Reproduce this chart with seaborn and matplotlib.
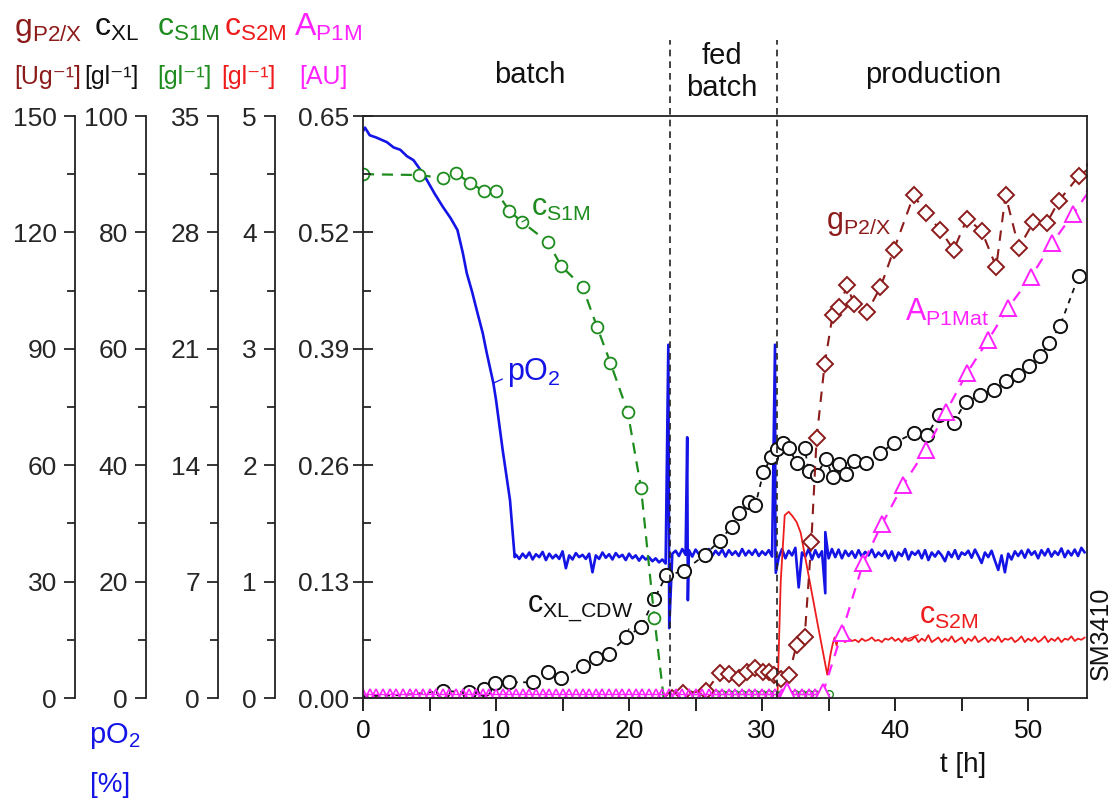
import numpy as np
import matplotlib
matplotlib.use("Agg")
import matplotlib.pyplot as plt
import seaborn as sns

# ---------------- data ----------------
# dissolved oxygen pO2 [%] -- decline phase
t_po2_decline = [0.0, 0.15, 0.5, 1.0, 1.8, 2.3, 2.8, 3.3, 3.8, 4.3, 4.8, 5.4, 6.0, 6.6, 7.1,
                 7.5, 7.8, 8.2, 8.6, 9.0, 9.3, 9.8, 10.0, 10.5, 11.05, 11.4]
po2_decline = [97.4, 98.0, 96.7, 96.3, 95.5, 94.6, 94.2, 93.1, 92.4, 90.8, 89.0, 86.6, 84.4, 82.4, 80.4,
               76.5, 73.0, 69.8, 66.2, 62.7, 59.3, 54.1, 51.2, 42.6, 34.0, 24.2]
# controlled phase, sampled every 0.25 h from 11.5 h
po2_band_start = 11.5
po2_band_step = 0.25
po2_band = [
    24.6, 23.9, 24.8, 24.1, 25.0, 23.8, 24.7, 24.2,
    25.1, 23.7, 24.8, 24.0, 24.6, 23.9, 25.2, 22.3,
    24.5, 23.8, 24.9, 24.2, 24.6, 23.9, 24.8, 21.6,
    24.5, 23.9, 25.0, 24.1, 24.7, 23.8, 24.9, 24.2,
    24.6, 23.7, 24.8, 24.0, 24.5, 23.6, 24.4, 23.8,
    24.2, 23.5, 24.0, 23.3, 23.8, 23.1, 24.2, 24.8,
    25.3, 24.4, 25.6, 24.6, 25.4, 24.3, 25.5, 24.7,
    25.2, 24.5, 25.6, 24.4, 25.3, 24.6, 25.5, 24.3,
    25.4, 24.6, 25.2, 24.4, 25.6, 24.5, 25.3, 24.6,
    25.5, 24.4, 25.2, 24.6, 25.4, 24.3, 25.0, 24.2,
    25.6, 24.0, 25.3, 24.5, 25.8, 19.0, 25.0, 24.3,
    25.6, 23.8, 25.4, 24.2, 25.2, 18.0, 24.0, 25.6,
    24.2, 25.5, 24.0, 25.3, 24.4, 25.2, 24.1, 25.4,
    24.3, 25.1, 24.5, 25.5, 24.2, 25.0, 24.4, 25.3,
    24.0, 25.2, 23.6, 25.0, 24.4, 25.6, 23.8, 25.1,
    24.6, 25.3, 24.0, 25.4, 23.7, 25.0, 24.3, 25.2,
    24.5, 23.5, 25.1, 24.2, 25.4, 23.9, 25.0, 24.6,
    25.3, 24.1, 25.5, 24.4, 23.2, 25.0, 24.2, 25.3,
    23.6, 22.0, 24.5, 21.6, 24.8, 23.8, 25.2, 24.4,
    25.3, 24.1, 25.5, 24.6, 25.2, 24.0, 25.4, 24.5,
    25.6, 24.3, 25.2, 24.6, 25.7, 24.2, 25.3, 24.5,
    25.5, 24.4, 25.8, 25.0,
]
# spikes of the pO2 signal at feed switches
t_po2_spikes = [22.95, 23.02, 24.37, 24.42, 30.97, 31.03, 34.75]
po2_spikes = [60.7, 12.0, 44.8, 16.8, 60.7, 21.5, 28.5]

# biomass c_XL [g/l]
t_cxl = [0.0, 3.0, 6.0, 8.0, 9.1, 9.9, 11.0, 12.8, 13.9, 14.9, 16.5, 17.5, 18.5, 19.8, 20.9, 21.9,
         22.8, 24.1, 25.7, 26.8, 27.7, 28.3, 29.0, 29.5, 30.1, 30.7, 31.1, 31.6, 32.0, 32.6, 33.2,
         33.5, 34.1, 34.8, 35.3, 35.8, 36.3, 36.9, 37.8, 38.9, 39.9, 41.4, 42.4, 43.3, 44.4, 45.3,
         46.4, 47.4, 48.3, 49.2, 50.1, 50.9, 51.6, 52.4, 53.8]
cxl = [0.3, 0.5, 1.2, 1.0, 1.5, 2.6, 2.7, 2.7, 4.5, 3.4, 5.5, 6.9, 7.6, 10.5, 12.2, 17.0,
       21.1, 21.8, 24.6, 27.0, 29.4, 31.8, 33.7, 33.2, 38.8, 41.4, 42.8, 43.8, 43.0, 40.4, 43.0,
       39.0, 38.3, 41.1, 38.0, 40.2, 38.5, 40.7, 40.4, 42.1, 43.8, 45.5, 45.2, 48.6, 47.3, 50.9,
       52.0, 53.0, 54.5, 55.5, 57.0, 58.8, 61.0, 64.0, 72.5]

# substrate 1 c_S1M [g/l]
t_cs1 = [0.0, 4.2, 6.0, 7.0, 8.05, 9.1, 10.0, 11.0, 11.95, 13.9, 14.9, 16.5, 17.6, 18.6, 19.9,
         20.9, 21.9, 22.6]
cs1 = [31.5, 31.45, 31.27, 31.57, 30.97, 30.49, 30.49, 29.29, 28.63, 27.42, 25.98, 24.72, 22.31,
       20.15, 17.2, 12.63, 4.81, 0.0]
t_cs1_zero = [23.5, 24.0, 24.5, 25.0, 25.5, 26.0, 26.5, 27.0, 27.5, 28.0, 28.5, 29.0, 29.5, 30.0,
              30.5, 31.0, 31.5, 32.0, 32.5, 33.0, 33.5, 34.0, 34.5, 35.0]
cs1_zero = [0.25] * len(t_cs1_zero)

# substrate 2 c_S2M [g/l]
t_cs2 = [0.0, 31.15, 31.4, 31.7, 32.0, 32.3, 32.6, 32.9, 33.5, 34.2, 34.9, 35.15, 35.3, 35.45,
         35.6, 35.75, 35.9]
cs2 = [0.0, 0.0, 1.0, 1.57, 1.60, 1.56, 1.51, 1.42, 1.05, 0.62, 0.20, 0.38, 0.46, 0.52, 0.45,
       0.55, 0.53]
cs2_plateau_start = 36.0
cs2_plateau_step = 0.25
cs2_plateau = [
    0.50, 0.48, 0.51, 0.49, 0.50, 0.48, 0.51, 0.49,
    0.50, 0.52, 0.49, 0.50, 0.48, 0.51, 0.50, 0.52,
    0.49, 0.51, 0.48, 0.52, 0.49, 0.50, 0.53, 0.48,
    0.51, 0.49, 0.54, 0.48, 0.50, 0.52, 0.48, 0.51,
    0.49, 0.53, 0.48, 0.50, 0.52, 0.47, 0.51, 0.49,
    0.53, 0.48, 0.50, 0.52, 0.48, 0.51, 0.49, 0.53,
    0.48, 0.51, 0.50, 0.52, 0.48, 0.50, 0.53, 0.48,
    0.51, 0.49, 0.52, 0.48, 0.50, 0.53, 0.48, 0.51,
    0.49, 0.52, 0.48, 0.51, 0.50, 0.53, 0.49, 0.51,
    0.50, 0.52,
]

# specific product 2 g_P2/X [U/g]
t_gp2 = [23.2, 24.06, 25.8, 26.8, 27.5, 28.3, 28.9, 29.5, 30.1, 30.5, 30.9, 31.4, 32.0, 32.6,
         33.2, 33.7, 34.1, 34.7, 35.3, 35.8, 36.4, 36.9, 37.9, 38.9, 39.9, 41.4, 42.3, 43.4,
         44.4, 45.4, 46.5, 47.6, 48.3, 49.3, 50.4, 51.4, 52.3, 53.8, 55.0]
gp2 = [0.0, 1.3, 1.8, 6.4, 6.2, 5.2, 6.7, 7.7, 6.7, 6.7, 5.9, 4.9, 5.9, 13.7,
       15.7, 40.2, 67.0, 86.0, 98.7, 100.8, 106.4, 101.5, 99.5, 105.9, 115.5, 129.6, 125.0, 120.6,
       115.5, 123.5, 120.4, 111.1, 129.6, 116.0, 122.7, 122.4, 128.1, 134.5, 137.5]

# product 1 activity A_P1M [AU]
t_ap1_low = [0.0, 0.5, 1.0, 1.5, 2.0, 2.5, 3.0, 3.5, 4.0, 4.5, 5.0, 5.5, 6.0, 6.5, 7.0, 7.5,
             8.0, 8.5, 9.0, 9.5, 10.0, 10.5, 11.0, 11.5, 12.0, 12.5, 13.0, 13.5, 14.0, 14.5,
             15.0, 15.5, 16.0, 16.5, 17.0, 17.5, 18.0, 18.5, 19.0, 19.5, 20.0, 20.5, 21.0, 21.5,
             22.0, 22.5, 23.0, 23.5, 24.0, 24.5, 25.0, 25.5, 26.0, 26.5, 27.0, 27.5, 28.0, 28.5,
             29.0, 29.5, 30.0, 30.5, 31.0, 31.5, 32.0, 32.5, 33.0, 33.5, 34.0, 34.5]
ap1_low = [0.0045] * len(t_ap1_low)
t_ap1_mat = [31.9, 34.6, 36.0, 37.6, 39.0, 40.6, 42.3, 43.8, 45.4, 47.0, 48.5, 50.2, 51.8, 53.4, 55.0]
ap1_mat = [0.008, 0.007, 0.073, 0.151, 0.194, 0.238, 0.277, 0.319, 0.363, 0.400, 0.436, 0.470,
           0.508, 0.541, 0.575]

phase_bounds = [23.05, 31.1]

# ---------------- styling ----------------
sns.set_theme(style="ticks")
plt.rcParams["font.family"] = ["Liberation Sans", "DejaVu Sans"]
plt.rcParams["mathtext.fontset"] = "custom"
plt.rcParams["mathtext.rm"] = "Liberation Sans"
plt.rcParams["mathtext.it"] = "Liberation Sans:italic"
plt.rcParams["mathtext.bf"] = "Liberation Sans:bold"
plt.rcParams["axes.unicode_minus"] = False

C_G = "#8c1b1b"
C_K = "#111111"
C_S1 = "#1e8c1e"
C_S2 = "#ee1c1c"
C_A = "#ff22ff"
C_B = "#1414e6"

W, H = 1119, 800
L, R, T, B = 363, 1086.7, 116, 698
fig = plt.figure(figsize=(W / 100, H / 100), dpi=100)
fig.patch.set_facecolor("white")
pos = [L / W, 1 - B / H, (R - L) / W, (B - T) / H]

ax = fig.add_axes(pos)
ax_x = fig.add_axes(pos, sharex=ax)
ax_s2 = fig.add_axes(pos, sharex=ax)
ax_s1 = fig.add_axes(pos, sharex=ax)
ax_g = fig.add_axes(pos, sharex=ax)
for z, a in enumerate([ax_x, ax_s2, ax_s1, ax_g]):
    a.set_zorder(z + 1)
ax.set_zorder(6)
for a in [ax, ax_x, ax_s2, ax_s1, ax_g]:
    a.patch.set_visible(False)


def sline(a, x, y, **kw):
    sns.lineplot(x=np.asarray(x, float), y=np.asarray(y, float), ax=a, sort=False,
                 estimator=None, legend=False, **kw)


# pO2 assembled
t_band = po2_band_start + po2_band_step * np.arange(len(po2_band))
t_po2 = np.concatenate([t_po2_decline, t_band, t_po2_spikes])
v_po2 = np.concatenate([po2_decline, po2_band, po2_spikes])
order = np.argsort(t_po2, kind="stable")
sline(ax_x, t_po2[order], v_po2[order], color=C_B, linewidth=1.9, zorder=2)

# c_XL
sline(ax_x, t_cxl, cxl, color=C_K, linewidth=1.3, linestyle=(0, (3, 3)), marker="o",
      markersize=9.5, markerfacecolor="white", markeredgecolor=C_K, markeredgewidth=1.4, zorder=3,
      markevery=list(range(2, len(t_cxl))))

# c_S2M
t_plat = cs2_plateau_start + cs2_plateau_step * np.arange(len(cs2_plateau))
sline(ax_s2, np.concatenate([t_cs2, t_plat]), np.concatenate([cs2, cs2_plateau]),
      color=C_S2, linewidth=1.3)

# c_S1M
sline(ax_s1, t_cs1, cs1, color=C_S1, linewidth=1.6, linestyle=(0, (5, 3.5)), marker="o",
      markersize=8.5, markerfacecolor="white", markeredgecolor=C_S1, markeredgewidth=1.3,
      markevery=list(range(len(t_cs1) - 1)))
sline(ax_s1, t_cs1_zero, cs1_zero, color=C_S1, linewidth=1.0, marker="o", markersize=5.5,
      markerfacecolor="none", markeredgecolor=C_S1, markeredgewidth=1.0)

# g_P2/X
sline(ax_g, t_gp2, gp2, color=C_G, linewidth=1.5, linestyle=(0, (5, 4)), marker="D",
      markersize=8.5, markerfacecolor="white", markeredgecolor=C_G, markeredgewidth=1.4)

# A_P1M
sline(ax, t_ap1_low, ap1_low, color=C_A, linewidth=1.0, marker="^", markersize=7.5,
      markerfacecolor="none", markeredgecolor=C_A, markeredgewidth=1.2)
sline(ax, [t_ap1_low[-1]] + t_ap1_mat[1:], [ap1_low[-1]] + ap1_mat[1:], color=C_A, linewidth=1.6,
      linestyle=(0, (5, 4)), marker=None)
sline(ax, t_ap1_mat, ap1_mat, color=C_A, linewidth=0, marker="^", markersize=11,
      markerfacecolor="white", markeredgecolor=C_A, markeredgewidth=1.4)

# phase boundaries
for tb in phase_bounds:
    ax.axvline(tb, ymin=0, ymax=(B - 40) / (B - T), clip_on=False, color="#222222",
               linestyle=(0, (4, 3)), linewidth=1.2, zorder=10)

# ---------------- axes ----------------
ax.set_xlim(0, 54.4)
ax.set_ylim(0, 0.65)
ax_x.set_ylim(0, 100)
ax_s1.set_ylim(0, 35)
ax_s2.set_ylim(0, 5)
ax_g.set_ylim(0, 150)

ax.set_xticks([0, 10, 20, 30, 40, 50])
ax.set_xticks([5, 15, 25, 35, 45], minor=True)
ax.set_yticks([0, 0.13, 0.26, 0.39, 0.52, 0.65])
ax.set_yticklabels(["0.00", "0.13", "0.26", "0.39", "0.52", "0.65"])
ax.set_yticks([0.065, 0.195, 0.325, 0.455, 0.585], minor=True)
for s in ax.spines.values():
    s.set_visible(True)
    s.set_linewidth(1.3)
    s.set_color("#222222")
ax.tick_params(axis="x", which="both", direction="out", length=9, width=1.3, pad=6,
               labelsize=19, bottom=True, colors="#111111")
ax.tick_params(axis="y", which="major", direction="inout", length=14, width=1.3, pad=3,
               labelsize=19, left=True, right=False)
ax.tick_params(axis="y", which="minor", direction="in", length=6, width=1.3, left=True, right=False)
ax.set_xlabel("")
ax.set_ylabel("")


def style_left(a, frac, ticks, minors):
    for s in ["top", "right", "bottom"]:
        a.spines[s].set_visible(False)
    a.spines["left"].set_visible(True)
    a.spines["left"].set_position(("axes", frac))
    a.spines["left"].set_linewidth(1.3)
    a.spines["left"].set_color("#222222")
    a.set_yticks(ticks)
    a.set_yticks(minors, minor=True)
    a.tick_params(axis="y", which="major", direction="out", length=8, width=1.3, pad=5,
                  labelsize=19, left=True, right=False)
    a.tick_params(axis="y", which="minor", direction="out", length=6, width=1.3, left=True,
                  right=False)
    a.tick_params(axis="x", which="both", bottom=False, labelbottom=False)
    a.set_xlabel("")
    a.set_ylabel("")


style_left(ax_g, (75 - L) / (R - L), [0, 30, 60, 90, 120, 150], [15, 45, 75, 105, 135])
style_left(ax_x, (146 - L) / (R - L), [0, 20, 40, 60, 80, 100], [10, 30, 50, 70, 90])
style_left(ax_s1, (218 - L) / (R - L), [0, 7, 14, 21, 28, 35], [3.5, 10.5, 17.5, 24.5, 31.5])
style_left(ax_s2, (275 - L) / (R - L), [0, 1, 2, 3, 4, 5], [0.5, 1.5, 2.5, 3.5, 4.5])


def fx(px):
    return (px - L) / (R - L)


def fy(py):
    return (B - py) / (B - T)


# ---------------- series annotations ----------------
def note(a, text, xy, px, py, color, relpos, shrinkB=5):
    a.annotate(text, xy=xy, xycoords="data", xytext=(fx(px), fy(py)),
               textcoords=ax.transAxes, ha="left", va="center", fontsize=22, color=color,
               arrowprops=dict(arrowstyle="-", color=color, lw=0.9, relpos=relpos,
                               shrinkA=1, shrinkB=shrinkB), zorder=20, annotation_clip=False)


note(ax_s1, r"$\mathregular{c_{S1M}}$", (11.95, 28.63), 531, 208, C_S1, (0.0, 0.2))
note(ax_x, r"$\mathregular{pO_{2}}$", (9.8, 54.1), 507, 372, C_B, (0.0, 0.35), shrinkB=0)
note(ax_x, r"$\mathregular{c_{XL\_CDW}}$", (19.8, 10.5), 527, 609, C_K, (0.97, 0.0))
note(ax_g, r"$\mathregular{g_{P2/X}}$", (39.9, 115.5), 826, 223, C_G, (1.0, 0.05))
note(ax, r"$\mathregular{A_{P1Mat}}$", (47.0, 0.400), 905, 312, C_A, (1.0, 0.0))
note(ax_s2, r"$\mathregular{c_{S2M}}$", (40.75, 0.498), 919, 616, C_S2, (0.15, 0.0), shrinkB=0)

# ---------------- figure texts ----------------
def ftext(px, py, s, **kw):
    fig.text(px / W, 1 - py / H, s, **kw)


hdr = dict(ha="center", va="baseline", fontsize=23)
ftext(48, 36, r"$\mathregular{g_{P2/X}}$", color=C_G, **hdr)
ftext(116, 36, r"$\mathregular{c_{XL}}$", color=C_K, **hdr)
ftext(188, 36, r"$\mathregular{c_{S1M}}$", color=C_S1, **hdr)
ftext(255, 36, r"$\mathregular{c_{S2M}}$", color=C_S2, **hdr)
ftext(328, 36, r"$\mathregular{A_{P1M}}$", color=C_A, **hdr)
unit = dict(ha="center", va="baseline", fontsize=18)
ftext(48, 84, "[Ug\u207b\u00b9]", color=C_G, **unit)
ftext(111, 84, "[gl\u207b\u00b9]", color=C_K, **unit)
ftext(184, 84, "[gl\u207b\u00b9]", color=C_S1, **unit)
ftext(248, 84, "[gl\u207b\u00b9]", color=C_S2, **unit)
ftext(323, 84, "[AU]", color=C_A, **unit)

ftext(115, 736, r"$\mathregular{pO_{2}}$", color=C_B, ha="center", va="center", fontsize=21)
ftext(110, 785, "[%]", color=C_B, ha="center", va="center", fontsize=20)

ftext(530, 75, "batch", ha="center", va="center", fontsize=21, color=C_K)
ftext(722, 72, "fed\nbatch", ha="center", va="center", fontsize=21, color=C_K, linespacing=1.15)
ftext(933, 75, "production", ha="center", va="center", fontsize=21, color=C_K)
ftext(963, 765, "t [h]", ha="center", va="center", fontsize=20, color=C_K)
ftext(1101, 633, "SM3410", ha="center", va="center", fontsize=18, color=C_K, rotation=90)

fig.savefig("out.png", dpi=100, facecolor="white")
